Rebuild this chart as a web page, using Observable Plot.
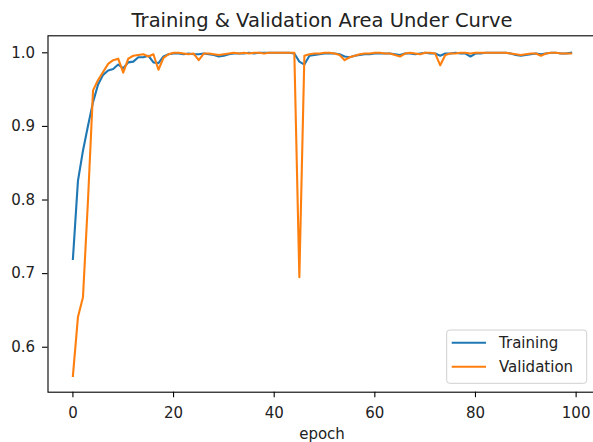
<!DOCTYPE html>
<html><head><meta charset="utf-8">
<script src="https://cdn.jsdelivr.net/npm/d3@7"></script>
<script src="https://cdn.jsdelivr.net/npm/@observablehq/plot@0.6"></script>
<style>
  html, body { margin: 0; padding: 0; background: #fff; overflow: hidden; }
  #chart svg { font-family: "DejaVu Sans", sans-serif; }
</style>
</head><body><div id="chart"></div>
<script>
const epochs = d3.range(100);
const training = [
  0.720, 0.826, 0.867, 0.901, 0.933, 0.957, 0.970, 0.976, 0.978, 0.984,
  0.979, 0.987, 0.988, 0.994, 0.994, 0.996, 0.987, 0.986, 0.995, 0.998,
  0.999, 0.999, 0.998, 0.999, 0.998, 0.998, 0.999, 0.998, 0.997, 0.995,
  0.996, 0.998, 0.999, 0.999, 0.999, 1.000, 0.999, 1.000, 1.000, 1.000,
  1.000, 1.000, 1.000, 1.000, 0.999, 0.988, 0.984, 0.996, 0.997, 0.998,
  0.999, 0.999, 0.999, 0.998, 0.995, 0.994, 0.996, 0.997, 0.998, 0.998,
  0.999, 0.999, 0.999, 0.999, 0.998, 0.997, 0.999, 0.999, 0.998, 0.999,
  1.000, 0.999, 0.999, 0.996, 0.999, 0.999, 1.000, 0.999, 0.999, 0.995,
  0.999, 0.999, 1.000, 1.000, 1.000, 1.000, 1.000, 0.999, 0.997, 0.996,
  0.997, 0.998, 0.999, 0.998, 0.999, 1.000, 1.000, 0.999, 0.999, 1.000
];
const validation = [
  0.561, 0.641, 0.668, 0.800, 0.949, 0.963, 0.974, 0.985, 0.990, 0.992,
  0.973, 0.992, 0.996, 0.997, 0.998, 0.995, 0.998, 0.977, 0.993, 0.998,
  1.000, 1.000, 0.999, 0.998, 0.999, 0.990, 0.999, 0.999, 0.998, 0.997,
  0.998, 0.999, 1.000, 0.999, 1.000, 0.999, 1.000, 1.000, 0.999, 1.000,
  1.000, 1.000, 1.000, 1.000, 1.000, 0.695, 0.996, 0.998, 0.999, 0.999,
  1.000, 1.000, 0.999, 0.997, 0.990, 0.994, 0.996, 0.998, 0.999, 0.999,
  1.000, 1.000, 0.999, 0.999, 0.997, 0.995, 0.999, 1.000, 0.999, 0.998,
  1.000, 1.000, 0.999, 0.983, 0.997, 0.999, 0.999, 1.000, 1.000, 0.999,
  1.000, 1.000, 1.000, 1.000, 1.000, 1.000, 1.000, 0.999, 0.998, 0.997,
  0.998, 0.999, 0.999, 0.996, 0.999, 1.000, 1.000, 0.999, 0.999, 0.999
];
const seriesNames = ["Training", "Validation"];
const seriesColors = ["#1f77b4", "#ff7f0e"];
const xTicks = [0, 20, 40, 60, 80, 100];
const xTickLabels = ["0", "20", "40", "60", "80", "100"];
const yTicks = [0.6, 0.7, 0.8, 0.9, 1.0];
const yTickLabels = ["0.6", "0.7", "0.8", "0.9", "1.0"];
const titleText = "Training & Validation Area Under Curve";
const xLabelText = "epoch";

const xDomain = [-4.95, 103.95];
const yDomain = [0.5389, 1.0231];

const rows = [];
[training, validation].forEach((vals, s) => {
  epochs.forEach((e, i) => rows.push({ series: seriesNames[s], epoch: e, value: vals[i] }));
});
const xMid = (xDomain[0] + xDomain[1]) / 2;

const chart = Plot.plot({
  width: 593,
  height: 442,
  marginLeft: 47.5,
  marginRight: -2.5,
  marginTop: 35.3,
  marginBottom: 50.3,
  style: { fontFamily: "DejaVu Sans", fontSize: "15px", color: "#000", background: "#fff", overflow: "hidden" },
  x: { domain: xDomain },
  y: { domain: yDomain },
  color: { domain: seriesNames, range: seriesColors },
  marks: [
    Plot.axisX({ ticks: xTicks, tickFormat: (d) => xTickLabels[xTicks.indexOf(d)], tickSize: 5.5, tickPadding: 9.3, label: null, stroke: "#000", strokeWidth: 1.1, fontSize: 15, fill: "#222" }),
    Plot.axisY({ ticks: yTicks, tickFormat: (d) => yTickLabels[yTicks.findIndex(t => Math.abs(t - d) < 1e-9)], tickSize: 5.5, tickPadding: 7.5, label: null, stroke: "#000", strokeWidth: 1.1, fontSize: 15, fill: "#222" }),
    Plot.line(rows, { x: "epoch", y: "value", z: "series", stroke: "series", strokeWidth: 2.1, strokeLinejoin: "round", strokeLinecap: "square" }),
    Plot.frame({ stroke: "#000", strokeWidth: 1.1 }),
    Plot.text([titleText], { x: () => xMid, frameAnchor: "top", lineAnchor: "bottom", dy: -8.6, fontSize: 19.5, fill: "#222", text: d => d }),
    Plot.text([xLabelText], { x: () => xMid, frameAnchor: "bottom", lineAnchor: "bottom", dy: 47, fontSize: 15, fill: "#222", text: d => d })
  ]
});

// Legend (matplotlib-style box, lower right)
const svg = d3.select(chart);
const lg = svg.append("g").attr("font-family", "DejaVu Sans").attr("font-size", 15).attr("text-anchor", "start");
lg.append("rect").attr("x", 446.7).attr("y", 330).attr("width", 140).attr("height", 53.3)
  .attr("rx", 3).attr("fill", "#fff").attr("fill-opacity", 0.8).attr("stroke", "#d0d0d0").attr("stroke-width", 1);
seriesNames.forEach((name, i) => {
  const cy = 342.7 + i * 24;
  lg.append("line").attr("x1", 451.7).attr("x2", 486).attr("y1", cy).attr("y2", cy)
    .attr("stroke", seriesColors[i]).attr("stroke-width", 2.1);
  lg.append("text").attr("x", 499).attr("y", cy).attr("dy", "0.35em").attr("text-anchor", "start").attr("fill", "#222").text(name);
});

document.getElementById("chart").appendChild(chart);
</script>
</body></html>
